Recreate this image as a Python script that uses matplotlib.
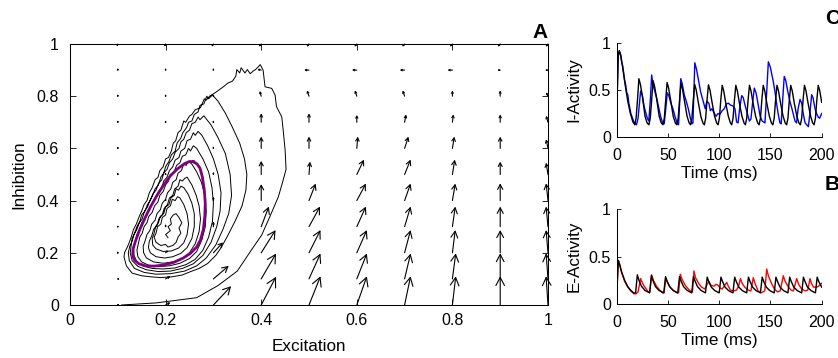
import numpy as np
import matplotlib
matplotlib.use("Agg")
import matplotlib.pyplot as plt
from matplotlib.patches import FancyArrowPatch

plt.rcParams['font.family'] = ['Liberation Sans', 'DejaVu Sans']

# ---- phase plane (panel A) ----
grid_e = [0.1, 0.2, 0.3, 0.4, 0.5, 0.6, 0.7, 0.8, 0.9, 1.0]
grid_i = [0.0, 0.1, 0.2, 0.3, 0.4, 0.5, 0.6, 0.7, 0.8, 0.9, 1.0]

# arrow components (rows = inhibition level, cols = excitation level)
field_u = [
    [0.003, 0.010, 0.037, 0.031, 0.024, 0.021, 0.0125, 0.007, 0.0, -0.004],
    [0.004, 0.010, 0.032, 0.031, 0.024, 0.021, 0.0125, 0.007, 0.0, -0.004],
    [0.0, 0.005, 0.020, 0.030, 0.024, 0.021, 0.0125, 0.006, 0.0, -0.004],
    [0.0, 0.0, 0.0, 0.016, 0.023, 0.019, 0.0125, 0.006, 0.0, -0.004],
    [0.0, 0.0, 0.0, 0.0, 0.014, 0.019, 0.0125, 0.006, 0.0, -0.004],
    [0.0, 0.0, 0.0, 0.0, 0.002, 0.015, 0.0125, 0.005, 0.0, -0.004],
    [0.0, 0.0, 0.0, 0.0, 0.0, 0.002, 0.008, 0.004, 0.0, -0.004],
    [0.0, 0.0, 0.0, 0.0, 0.0, 0.0, 0.003, 0.002, 0.0, -0.004],
    [0.0, 0.0, 0.0, -0.003, -0.004, -0.004, -0.004, 0.0, 0.0, -0.004],
    [0.0, 0.0, 0.0, -0.008, -0.010, -0.010, -0.010, -0.010, -0.006, -0.006],
    [-0.002, -0.003, -0.004, -0.005, -0.005, -0.005, -0.005, -0.005, -0.005, -0.005],
]
field_v = [
    [0.003, 0.010, 0.072, 0.108, 0.110, 0.110, 0.110, 0.110, 0.110, 0.110],
    [-0.002, 0.010, 0.050, 0.097, 0.097, 0.097, 0.097, 0.098, 0.098, 0.098],
    [0.004, 0.010, 0.040, 0.087, 0.087, 0.087, 0.087, 0.087, 0.087, 0.087],
    [0.005, 0.010, 0.020, 0.077, 0.077, 0.077, 0.077, 0.077, 0.077, 0.077],
    [0.006, 0.008, 0.015, 0.063, 0.065, 0.065, 0.065, 0.065, 0.066, 0.066],
    [0.006, 0.006, 0.010, 0.052, 0.049, 0.057, 0.057, 0.057, 0.049, 0.045],
    [0.007, 0.007, 0.008, 0.045, 0.045, 0.045, 0.045, 0.045, 0.045, 0.035],
    [0.007, 0.007, 0.007, 0.034, 0.034, 0.028, 0.030, 0.030, 0.030, 0.025],
    [0.007, 0.007, 0.007, 0.020, 0.022, 0.022, 0.022, 0.022, 0.022, 0.015],
    [0.007, 0.007, 0.007, 0.003, 0.0, 0.0, 0.0, 0.0, 0.0, 0.0],
    [-0.010, -0.010, -0.010, -0.010, -0.010, -0.010, -0.010, -0.010, -0.010, -0.010],
]

trajectory = [
    (0.108, 0.0), (0.18, 0.008), (0.265, 0.028), (0.31, 0.075), (0.35, 0.13),
    (0.377, 0.204), (0.401, 0.268), (0.418, 0.338), (0.436, 0.415), (0.446, 0.479),
    (0.452, 0.52), (0.450, 0.594), (0.446, 0.67), (0.443, 0.721), (0.432, 0.76),
    (0.429, 0.805), (0.422, 0.83), (0.408, 0.836), (0.404, 0.9), (0.398, 0.921),
    (0.392, 0.909), (0.388, 0.902), (0.383, 0.896), (0.377, 0.886), (0.371, 0.902),
    (0.366, 0.889), (0.358, 0.909), (0.355, 0.889), (0.349, 0.902), (0.347, 0.877),
    (0.340, 0.858), (0.33, 0.85), (0.32, 0.835), (0.305, 0.815),
    # loop 1 descent
    (0.292, 0.80), (0.285, 0.785), (0.281, 0.79), (0.273, 0.756), (0.262, 0.748),
    (0.255, 0.73), (0.25, 0.724), (0.242, 0.70), (0.238, 0.705), (0.232, 0.67),
    (0.226, 0.66), (0.221, 0.629), (0.216, 0.62), (0.212, 0.59), (0.206, 0.565),
    (0.2, 0.56), (0.195, 0.53), (0.188, 0.515), (0.184, 0.489), (0.178, 0.48),
    (0.172, 0.45), (0.166, 0.43), (0.161, 0.4), (0.155, 0.385), (0.15, 0.36),
    (0.145, 0.34), (0.139, 0.311), (0.133, 0.29), (0.128, 0.26), (0.124, 0.24),
    (0.12, 0.222), (0.114, 0.2), (0.113, 0.184), (0.118, 0.15), (0.13, 0.122),
    (0.15, 0.112), (0.169, 0.108), (0.19, 0.105), (0.213, 0.108), (0.235, 0.115),
    (0.251, 0.127), (0.27, 0.14), (0.288, 0.159), (0.305, 0.19), (0.317, 0.222),
    (0.332, 0.273), (0.345, 0.32), (0.36, 0.38), (0.368, 0.44), (0.37, 0.5),
    (0.365, 0.56), (0.355, 0.62), (0.34, 0.68), (0.325, 0.735), (0.31, 0.78),
    (0.298, 0.805),
    # loop 2
    (0.29, 0.79), (0.286, 0.80), (0.28, 0.77), (0.272, 0.765), (0.268, 0.74),
    (0.26, 0.73), (0.255, 0.705), (0.248, 0.70), (0.244, 0.68), (0.236, 0.66),
    (0.232, 0.64), (0.224, 0.62), (0.22, 0.59), (0.212, 0.575), (0.207, 0.55),
    (0.2, 0.53), (0.196, 0.505), (0.19, 0.49), (0.185, 0.46), (0.178, 0.445),
    (0.173, 0.42), (0.167, 0.4), (0.162, 0.375), (0.156, 0.36), (0.151, 0.33),
    (0.145, 0.315), (0.14, 0.29), (0.134, 0.27), (0.13, 0.245), (0.125, 0.225),
    (0.122, 0.2), (0.124, 0.17), (0.135, 0.14), (0.155, 0.125), (0.18, 0.118),
    (0.21, 0.12), (0.24, 0.13), (0.265, 0.15), (0.285, 0.18), (0.305, 0.23),
    (0.32, 0.29), (0.332, 0.35), (0.338, 0.42), (0.335, 0.5), (0.325, 0.58),
    (0.31, 0.64), (0.295, 0.69), (0.28, 0.725),
    # loop 3
    (0.272, 0.71), (0.268, 0.72), (0.262, 0.70), (0.255, 0.695), (0.25, 0.67),
    (0.243, 0.66), (0.238, 0.635), (0.232, 0.625), (0.228, 0.60), (0.22, 0.585),
    (0.215, 0.56), (0.208, 0.545), (0.203, 0.52), (0.196, 0.505), (0.192, 0.48),
    (0.185, 0.465), (0.18, 0.44), (0.173, 0.425), (0.168, 0.40), (0.162, 0.385),
    (0.157, 0.36), (0.15, 0.345), (0.146, 0.32), (0.14, 0.30), (0.135, 0.275),
    (0.13, 0.255), (0.128, 0.23), (0.126, 0.20), (0.13, 0.17), (0.142, 0.148),
    (0.16, 0.135), (0.185, 0.128), (0.21, 0.13), (0.235, 0.14), (0.258, 0.158),
    (0.278, 0.19), (0.295, 0.24), (0.307, 0.3), (0.314, 0.36), (0.316, 0.43),
    (0.31, 0.5), (0.3, 0.56), (0.288, 0.61), (0.276, 0.65), (0.268, 0.665),
    # loop 4
    (0.262, 0.65), (0.258, 0.66), (0.252, 0.635), (0.245, 0.63), (0.24, 0.60),
    (0.232, 0.59), (0.228, 0.565), (0.22, 0.555), (0.215, 0.53), (0.208, 0.515),
    (0.203, 0.49), (0.196, 0.475), (0.192, 0.45), (0.185, 0.435), (0.18, 0.41),
    (0.173, 0.395), (0.168, 0.37), (0.162, 0.355), (0.157, 0.33), (0.15, 0.315),
    (0.146, 0.29), (0.14, 0.27), (0.137, 0.245), (0.133, 0.22), (0.134, 0.19),
    (0.14, 0.165), (0.152, 0.15), (0.172, 0.14), (0.195, 0.138), (0.22, 0.142),
    (0.243, 0.155), (0.262, 0.175), (0.278, 0.21), (0.29, 0.26), (0.298, 0.32),
    (0.3, 0.39), (0.297, 0.45), (0.29, 0.51), (0.278, 0.56), (0.265, 0.6),
    (0.258, 0.61),
    # loop 5
    (0.252, 0.59), (0.248, 0.60), (0.242, 0.575), (0.235, 0.57), (0.23, 0.545),
    (0.223, 0.535), (0.218, 0.51), (0.21, 0.50), (0.206, 0.475), (0.2, 0.46),
    (0.195, 0.435), (0.188, 0.42), (0.184, 0.395), (0.177, 0.38), (0.172, 0.355),
    (0.165, 0.34), (0.161, 0.315), (0.155, 0.30), (0.151, 0.275), (0.146, 0.26),
    (0.143, 0.235), (0.14, 0.21), (0.142, 0.185), (0.15, 0.165), (0.165, 0.152),
    (0.185, 0.147), (0.208, 0.15), (0.23, 0.16), (0.25, 0.178), (0.265, 0.205),
    (0.276, 0.25), (0.283, 0.3), (0.285, 0.36), (0.282, 0.42), (0.275, 0.47),
    (0.265, 0.51), (0.255, 0.54), (0.248, 0.55),
    # loop 6
    (0.243, 0.535), (0.238, 0.54), (0.233, 0.515), (0.226, 0.505), (0.222, 0.48),
    (0.215, 0.47), (0.211, 0.445), (0.204, 0.43), (0.2, 0.405), (0.193, 0.39),
    (0.189, 0.365), (0.182, 0.35), (0.178, 0.325), (0.171, 0.31), (0.167, 0.285),
    (0.161, 0.27), (0.157, 0.245), (0.153, 0.225), (0.154, 0.2), (0.16, 0.18),
    (0.175, 0.165), (0.195, 0.16), (0.215, 0.165), (0.235, 0.178), (0.25, 0.2),
    (0.262, 0.235), (0.27, 0.28), (0.273, 0.33), (0.27, 0.38), (0.264, 0.42),
    (0.255, 0.46), (0.245, 0.49), (0.24, 0.485),
    # loop 7
    (0.235, 0.475), (0.23, 0.48), (0.226, 0.455), (0.219, 0.445), (0.215, 0.42),
    (0.208, 0.41), (0.204, 0.385), (0.197, 0.37), (0.193, 0.345), (0.186, 0.33),
    (0.182, 0.305), (0.175, 0.29), (0.171, 0.265), (0.166, 0.245), (0.164, 0.22),
    (0.168, 0.2), (0.18, 0.185), (0.198, 0.18), (0.215, 0.185), (0.232, 0.198),
    (0.245, 0.22), (0.255, 0.255), (0.26, 0.3), (0.26, 0.35), (0.255, 0.39),
    (0.247, 0.425), (0.238, 0.45), (0.232, 0.455),
    # loop 8
    (0.227, 0.44), (0.222, 0.445), (0.218, 0.42), (0.211, 0.41), (0.207, 0.385),
    (0.2, 0.375), (0.196, 0.35), (0.189, 0.34), (0.185, 0.315), (0.179, 0.30),
    (0.176, 0.275), (0.172, 0.255), (0.173, 0.23), (0.18, 0.215), (0.195, 0.205),
    (0.212, 0.207), (0.227, 0.218), (0.238, 0.238), (0.245, 0.27), (0.248, 0.31),
    (0.245, 0.35), (0.238, 0.385), (0.23, 0.41), (0.225, 0.415),
    # inner part
    (0.22, 0.40), (0.214, 0.405), (0.21, 0.38), (0.203, 0.37), (0.2, 0.345),
    (0.193, 0.335), (0.19, 0.31), (0.183, 0.30), (0.18, 0.275), (0.176, 0.26),
    (0.18, 0.24), (0.19, 0.228), (0.2, 0.232), (0.205, 0.222), (0.215, 0.228),
    (0.222, 0.24), (0.226, 0.26), (0.232, 0.275), (0.228, 0.295), (0.234, 0.315),
    (0.228, 0.335), (0.222, 0.35), (0.216, 0.345), (0.21, 0.33), (0.212, 0.31),
    (0.205, 0.3), (0.21, 0.285), (0.2, 0.27), (0.205, 0.258),
]

limit_cycle = [
    (0.258, 0.549), (0.266, 0.54), (0.272, 0.524), (0.277, 0.49), (0.281, 0.44),
    (0.283, 0.39), (0.282, 0.34), (0.279, 0.29), (0.273, 0.25), (0.265, 0.222),
    (0.252, 0.198), (0.237, 0.18), (0.218, 0.164), (0.196, 0.153), (0.176, 0.149),
    (0.158, 0.15), (0.144, 0.158), (0.135, 0.172), (0.131, 0.19), (0.132, 0.215),
    (0.137, 0.245), (0.145, 0.285), (0.156, 0.33), (0.168, 0.375), (0.182, 0.42),
    (0.196, 0.46), (0.21, 0.495), (0.225, 0.522), (0.24, 0.542), (0.25, 0.55),
    (0.258, 0.549),
]

# ---- time series (panels C and B) ----
t_inh_model = [0, 0.8, 1.6, 2.7, 4, 6, 8.5, 11, 13.5, 16, 17.8,
               19.1, 20.5, 21.8, 23.3, 25.3, 27.8, 29.8, 31.6,
               32.9, 34.3, 35.6, 37.1, 39.1, 41.6, 43.6, 45.3,
               46.6, 48, 49.3, 50.8, 52.8, 55.3, 57.3, 58.8,
               60.1, 61.5, 62.8, 64.3, 66.3, 68.8, 70.8, 72.2,
               73.5, 74.9, 76.2, 77.7, 79.7, 82.2, 84.2, 85.6,
               86.9, 88.3, 89.6, 91.1, 93.1, 95.6, 97.6, 99,
               100.3, 101.7, 103, 104.5, 106.5, 109, 111, 112.3,
               113.6, 115, 116.3, 117.8, 119.8, 122.3, 124.3, 125.6,
               126.9, 128.3, 129.6, 131.1, 133.1, 135.6, 137.6, 139,
               140.3, 141.7, 143, 144.5, 146.5, 149, 151, 152.4,
               153.7, 155.1, 156.4, 157.9, 159.9, 162.4, 164.4, 165.8,
               167.1, 168.5, 169.8, 171.3, 173.3, 175.8, 177.8, 179.2,
               180.5, 181.9, 183.2, 184.7, 186.7, 189.2, 191.2, 192.6,
               193.9, 195.3, 196.6, 198.1, 200]
inh_model = [0, 0.5, 0.85, 0.92, 0.88, 0.74, 0.55, 0.38, 0.25, 0.16, 0.13,
             0.2, 0.4, 0.62, 0.56, 0.43, 0.22, 0.15, 0.13,
             0.2, 0.4, 0.60, 0.54, 0.41, 0.22, 0.15, 0.13,
             0.2, 0.4, 0.58, 0.52, 0.39, 0.22, 0.15, 0.13,
             0.2, 0.4, 0.57, 0.51, 0.38, 0.22, 0.15, 0.13,
             0.2, 0.4, 0.56, 0.50, 0.37, 0.22, 0.15, 0.13,
             0.2, 0.4, 0.555, 0.50, 0.37, 0.22, 0.15, 0.13,
             0.2, 0.4, 0.55, 0.49, 0.36, 0.22, 0.15, 0.13,
             0.2, 0.4, 0.55, 0.49, 0.36, 0.22, 0.15, 0.13,
             0.2, 0.4, 0.55, 0.49, 0.36, 0.22, 0.15, 0.13,
             0.2, 0.4, 0.55, 0.49, 0.36, 0.22, 0.15, 0.13,
             0.2, 0.4, 0.55, 0.49, 0.36, 0.22, 0.15, 0.13,
             0.2, 0.4, 0.55, 0.49, 0.36, 0.22, 0.15, 0.13,
             0.2, 0.4, 0.55, 0.49, 0.36, 0.22, 0.15, 0.13,
             0.2, 0.4, 0.55, 0.49, 0.37]

t_inh_noisy = [0, 0.8, 1.6, 2.6, 4, 5, 6, 7, 8, 9, 10, 11, 12, 14, 17, 19.5, 21, 23.5,
               25, 27, 30, 31.5, 33, 34.3, 35.5, 37, 39, 41, 43, 45, 46.5, 48, 49.5,
               51, 53, 55, 57, 59, 60.5, 61.5, 62.6, 64, 66, 68, 70, 72, 73.5, 74.5,
               75.5, 76.3, 78, 80, 82, 84, 86.5, 88, 90, 91.5, 93, 95, 97, 99, 100.6,
               103, 105, 107, 109, 111, 113.6, 115.5, 117, 118.5, 120, 122, 123.5,
               125, 127.5, 129.5, 131, 132.5, 134.3, 136, 138, 140, 142, 144.7, 146,
               148, 150, 152.8, 154.5, 156, 157.5, 159.3, 160.5, 162, 163.5, 165, 167,
               169, 171, 174, 175.5, 177, 178.9, 180.5, 182, 183.8, 187, 188.5, 190.2,
               191.5, 193.5, 195, 196.7, 198, 200]
inh_noisy = [0, 0.5, 0.86, 0.91, 0.87, 0.8, 0.76, 0.68, 0.6, 0.55, 0.47, 0.45, 0.36, 0.25,
             0.16, 0.13, 0.2, 0.49, 0.45, 0.32, 0.2, 0.17, 0.4, 0.66, 0.55, 0.5, 0.42,
             0.32, 0.22, 0.15, 0.14, 0.3, 0.47, 0.44, 0.36, 0.3, 0.22, 0.15, 0.13,
             0.35, 0.62, 0.57, 0.45, 0.38, 0.3, 0.2, 0.14, 0.15, 0.5, 0.79, 0.72, 0.6,
             0.48, 0.4, 0.3, 0.38, 0.36, 0.28, 0.3, 0.26, 0.22, 0.25, 0.24, 0.28, 0.3,
             0.35, 0.36, 0.34, 0.33, 0.3, 0.16, 0.15, 0.3, 0.44, 0.42, 0.35, 0.25,
             0.17, 0.19, 0.35, 0.52, 0.47, 0.35, 0.22, 0.17, 0.15, 0.4, 0.8, 0.74,
             0.59, 0.48, 0.36, 0.25, 0.15, 0.14, 0.4, 0.645, 0.6, 0.48, 0.38, 0.3,
             0.17, 0.15, 0.3, 0.4, 0.36, 0.25, 0.15, 0.11, 0.25, 0.45, 0.42, 0.3,
             0.25, 0.21, 0.2, 0.25]

t_exc_model = [0, 0.8, 1.8, 3, 5, 8, 11, 14, 16.8, 18.6, 20.3,
               21.8, 24.3, 27.8, 32.3, 34,
               35.5, 38, 41.5, 46.1, 47.8,
               49.3, 51.8, 55.3, 59.7, 61.4,
               62.9, 65.4, 68.9, 73.3, 75,
               76.5, 79, 82.5, 86.7, 88.4,
               89.9, 92.4, 95.9, 100.1, 101.8,
               103.3, 105.8, 109.3, 113.5, 115.2,
               116.7, 119.2, 122.7, 126.9, 128.6,
               130.1, 132.6, 136.1, 140.3, 142,
               143.5, 146, 149.5, 153.7, 155.4,
               156.9, 159.4, 162.9, 167.1, 168.8,
               170.3, 172.8, 176.3, 180.5, 182.2,
               183.7, 186.2, 189.7, 193.9, 195.6,
               197.1, 200]
exc_model = [0, 0.25, 0.46, 0.42, 0.34, 0.25, 0.185, 0.145, 0.12, 0.118, 0.31,
             0.255, 0.19, 0.145, 0.12, 0.3,
             0.25, 0.185, 0.145, 0.12, 0.29,
             0.245, 0.185, 0.145, 0.12, 0.29,
             0.245, 0.185, 0.145, 0.12, 0.29,
             0.245, 0.185, 0.145, 0.12, 0.285,
             0.24, 0.18, 0.143, 0.12, 0.285,
             0.24, 0.18, 0.143, 0.12, 0.285,
             0.24, 0.18, 0.143, 0.12, 0.285,
             0.24, 0.18, 0.143, 0.12, 0.285,
             0.24, 0.18, 0.143, 0.12, 0.285,
             0.24, 0.18, 0.143, 0.12, 0.285,
             0.24, 0.18, 0.143, 0.12, 0.285,
             0.24, 0.18, 0.143, 0.12, 0.285,
             0.24, 0.18]

t_exc_noisy = [0, 0.7, 1.8, 3, 5, 8, 11, 14, 17, 19, 21, 23.5, 25, 27, 29, 31, 32.5,
               34.2, 36, 39, 42, 45, 46.3, 48, 50, 53, 56, 59, 60.5, 62.2, 64, 67,
               70, 73, 74, 75.5, 77, 80, 83, 86, 88, 89.9, 92, 95, 97, 99, 101, 103,
               105.5, 107.4, 109, 111, 114, 117, 119, 120.8, 122.5, 125, 128, 131,
               133.3, 135, 138, 141, 144.5, 146.4, 148, 151, 154, 157, 159.5, 162.6,
               164, 167, 170, 172.5, 175.6, 177.5, 180.5, 184, 186.5, 188.6, 190,
               192, 195, 197, 200]
exc_noisy = [0, 0.2, 0.46, 0.42, 0.33, 0.24, 0.18, 0.14, 0.11, 0.11, 0.13, 0.27, 0.23,
             0.19, 0.16, 0.13, 0.13, 0.31, 0.25, 0.19, 0.15, 0.12, 0.12, 0.27, 0.22,
             0.17, 0.14, 0.12, 0.12, 0.315, 0.26, 0.2, 0.16, 0.13, 0.13, 0.35, 0.28,
             0.22, 0.18, 0.16, 0.2, 0.24, 0.2, 0.19, 0.21, 0.2, 0.17, 0.16, 0.2, 0.23,
             0.19, 0.15, 0.14, 0.15, 0.19, 0.27, 0.22, 0.18, 0.15, 0.14, 0.28, 0.22,
             0.14, 0.12, 0.14, 0.37, 0.3, 0.22, 0.16, 0.13, 0.14, 0.3, 0.25, 0.19,
             0.15, 0.14, 0.27, 0.21, 0.16, 0.14, 0.15, 0.27, 0.22, 0.18, 0.18, 0.19,
             0.22]

# ---- figure ----
W, H = 838, 358
fig = plt.figure(figsize=(W / 100, H / 100), dpi=100)

def px_axes(x0, x1, ytop, ybot):
    return fig.add_axes([x0 / W, 1 - ybot / H, (x1 - x0) / W, (ybot - ytop) / H])

tick_fs = 11.5
label_fs = 12.3

# Panel A
ax = px_axes(70, 548, 44, 305)
tr = np.array(trajectory)
ax.plot(tr[:, 0], tr[:, 1], color='black', lw=0.7)

px_per_x, px_per_y = 478, 261
for r, yv in enumerate(grid_i):
    for c, xv in enumerate(grid_e):
        u, v = field_u[r][c], field_v[r][c]
        L = np.hypot(u * px_per_x, v * px_per_y)
        hl = max(0.28 * L, 0.3) / 1.389
        hw = max(0.15 * L, 0.2) / 1.389
        arr = FancyArrowPatch((xv, yv), (xv + u, yv + v),
                              arrowstyle=f'->,head_length={hl:.3f},head_width={hw:.3f}',
                              mutation_scale=1, lw=0.8, color='black',
                              shrinkA=0, shrinkB=0, clip_on=False)
        ax.add_patch(arr)

lc = np.array(limit_cycle)
ax.plot(lc[:, 0], lc[:, 1], color='#800080', lw=2.0)

ax.set_xlim(0, 1)
ax.set_ylim(0, 1)
ax.set_xticks([0, 0.2, 0.4, 0.6, 0.8, 1])
ax.set_xticklabels(['0', '0.2', '0.4', '0.6', '0.8', '1'])
ax.set_yticks([0, 0.2, 0.4, 0.6, 0.8, 1])
ax.set_yticklabels(['0', '0.2', '0.4', '0.6', '0.8', '1'])
ax.tick_params(direction='in', top=True, right=True, length=4, width=0.6,
               labelsize=tick_fs)
ax.tick_params(axis='x', pad=6)
ax.tick_params(axis='y', pad=8)
ax.set_xlabel('Excitation', fontsize=label_fs, labelpad=8)
ax.set_ylabel('Inhibition', fontsize=label_fs, labelpad=7)
for s in ax.spines.values():
    s.set_linewidth(0.75)


def time_axes(axt, t, model, tn, noisy, color, ylabel):
    axt.plot(tn, noisy, color=color, lw=1.0)
    axt.plot(t, model, color='black', lw=1.0)
    axt.set_xlim(0, 200)
    axt.set_ylim(0, 1)
    axt.set_xticks([0, 50, 100, 150, 200])
    axt.set_yticks([0, 0.5, 1])
    axt.set_yticklabels(['0', '0.5', '1'])
    axt.spines['top'].set_visible(False)
    axt.spines['right'].set_visible(False)
    for s in ('left', 'bottom'):
        axt.spines[s].set_linewidth(0.75)
    axt.tick_params(direction='in', length=3, width=0.6, labelsize=tick_fs)
    axt.tick_params(axis='x', pad=8)
    axt.tick_params(axis='y', pad=4)
    axt.set_xlabel('Time (ms)', fontsize=label_fs, labelpad=2)
    axt.set_ylabel(ylabel, fontsize=label_fs, labelpad=5)


axc = px_axes(616.5, 821.7, 43, 137)
time_axes(axc, t_inh_model, inh_model, t_inh_noisy, inh_noisy, '#0000ff', 'I-Activity')

axb = px_axes(616.5, 821.7, 209, 304.3)
time_axes(axb, t_exc_model, exc_model, t_exc_noisy, exc_noisy, '#ff0000', 'E-Activity')

fig.text(548 / W, 1 - 33 / H, 'A', fontsize=15, fontweight='bold', ha='right', va='center')
fig.text(825 / W, 1 - 19 / H, 'C', fontsize=15, fontweight='bold', ha='left', va='center')
fig.text(825 / W, 1 - 185 / H, 'B', fontsize=15, fontweight='bold', ha='left', va='center')

fig.savefig('out.png', dpi=100)
